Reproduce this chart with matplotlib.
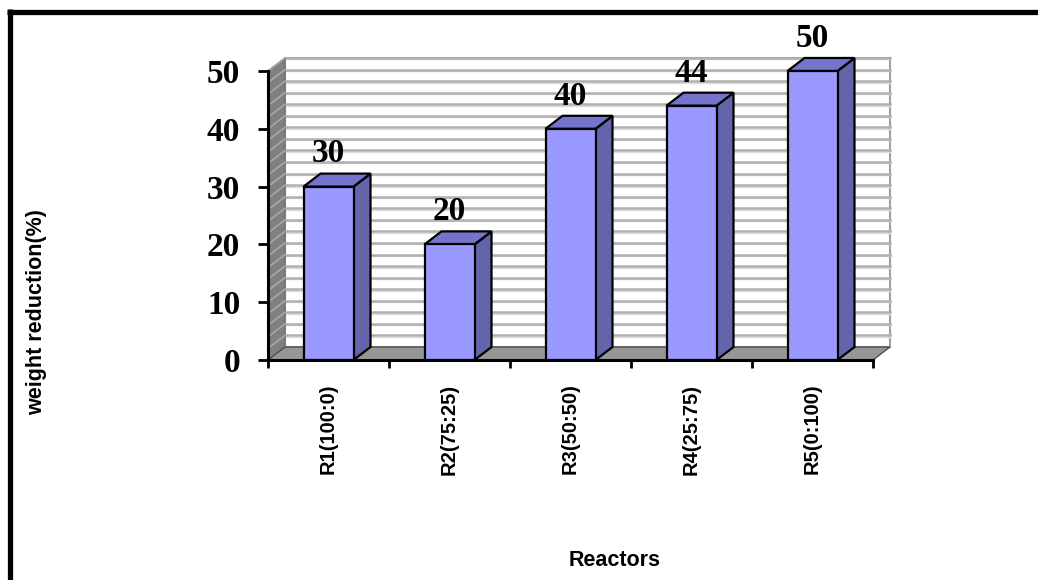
import numpy as np
import matplotlib
matplotlib.use("Agg")
import matplotlib.pyplot as plt
from matplotlib.patches import Polygon
from matplotlib.lines import Line2D

reactors = ["R1(100:0)", "R2(75:25)", "R3(50:50)", "R4(25:75)", "R5(0:100)"]
reduction = [30, 20, 40, 44, 50]
y_ticks = [0, 10, 20, 30, 40, 50]

serif = ["Liberation Serif", "DejaVu Serif"]
sans = ["Liberation Sans", "DejaVu Sans"]

fig = plt.figure(figsize=(10.38, 5.8), dpi=100)
W, H = 1038, 580
ax = fig.add_axes([268 / W, 1 - 360 / H, (873 - 268) / W, (360 - 71) / H])
ax.set_xlim(-0.5, len(reactors) - 0.5)
ax.set_ylim(0, 50)
ax.set_facecolor("none")

# 3D depth offset in data units
dx = 17 / 121
dy = 13 / ((360 - 71) / 50)
x_lo, x_hi = -0.5, len(reactors) - 0.5
grid_vals = np.arange(0, 51, 2)

# back wall
ax.add_patch(Polygon([(x_lo + dx, dy), (x_hi + dx, dy), (x_hi + dx, 50 + dy), (x_lo + dx, 50 + dy)],
                     closed=True, facecolor="white", edgecolor="#a0a0a0", lw=1.5, clip_on=False, zorder=1))
for v in grid_vals[1:]:
    ax.plot([x_lo + dx, x_hi + dx], [v + dy, v + dy], color="#b0b0b0", lw=1.8, clip_on=False, zorder=1.5)
    ax.plot([x_lo + dx, x_hi + dx], [v + dy - 0.25, v + dy - 0.25], color="#dcdcdc", lw=1.0,
            clip_on=False, zorder=1.4)

# left side wall
ax.add_patch(Polygon([(x_lo, 0), (x_lo + dx, dy), (x_lo + dx, 50 + dy), (x_lo, 50)],
                     closed=True, facecolor="#808080", edgecolor="#707070", lw=1, clip_on=False, zorder=2))
for v in grid_vals[1:]:
    ax.plot([x_lo, x_lo + dx], [v, v + dy], color="#a8a8a8", lw=1.2, clip_on=False, zorder=2.5)

# floor
ax.add_patch(Polygon([(x_lo, 0), (x_hi, 0), (x_hi + dx, dy), (x_lo + dx, dy)],
                     closed=True, facecolor="#969696", edgecolor="#505050", lw=1, clip_on=False, zorder=2))

# bars
w = 50 / 121
for i, v in enumerate(reduction):
    x0, x1 = i - w / 2, i + w / 2
    ax.add_patch(Polygon([(x1, 0), (x1 + dx, dy), (x1 + dx, v + dy), (x1, v)],
                         closed=True, facecolor="#6464AA", edgecolor="black", lw=1.6, clip_on=False, zorder=4))
    ax.add_patch(Polygon([(x0, v), (x1, v), (x1 + dx, v + dy), (x0 + dx, v + dy)],
                         closed=True, facecolor="#7474CC", edgecolor="black", lw=1.6, clip_on=False, zorder=4))
    ax.add_patch(Polygon([(x0, 0), (x1, 0), (x1, v), (x0, v)],
                         closed=True, facecolor="#9999FF", edgecolor="black", lw=1.6, clip_on=False, zorder=5))
    ax.annotate(str(v), (i, v + dy), xytext=(0, 3), textcoords="offset points",
                ha="center", va="bottom", fontsize=24, fontweight="bold", family=serif,
                annotation_clip=False, zorder=6)

# axes
for s in ["top", "right"]:
    ax.spines[s].set_visible(False)
for s in ["left", "bottom"]:
    ax.spines[s].set_linewidth(2.2)
    ax.spines[s].set_zorder(7)

ax.set_yticks(y_ticks)
ax.set_yticklabels([str(t) for t in y_ticks], fontsize=24, fontweight="bold", family=serif)
ax.tick_params(axis="y", direction="out", length=7, width=2, pad=13)

ax.set_xticks(np.arange(len(reactors) + 1) - 0.5)
ax.set_xticklabels([])
ax.tick_params(axis="x", which="major", direction="out", length=6, width=2)
ax.set_xticks(np.arange(len(reactors)), minor=True)
ax.set_xticklabels(reactors, minor=True, rotation=90, fontsize=14.5, fontweight="bold", family=sans)
ax.tick_params(axis="x", which="minor", length=0, pad=17)

fig.text(37 / W, 1 - 312 / H, "weight reduction(%)", rotation=90, ha="center", va="center",
         fontsize=15.5, fontweight="bold", family=sans)
fig.text(615 / W, 1 - 560 / H, "Reactors", ha="center", va="center",
         fontsize=15.5, fontweight="bold", family=sans)

# outer frame
fig.add_artist(Line2D([7 / W, 1], [1 - 11.5 / H, 1 - 11.5 / H], color="black", lw=3.8,
                      solid_capstyle="butt", transform=fig.transFigure))
fig.add_artist(Line2D([9.5 / W, 9.5 / W], [0, 1 - 9 / H], color="black", lw=3.8,
                      solid_capstyle="butt", transform=fig.transFigure))

fig.savefig("out.png", dpi=100)
